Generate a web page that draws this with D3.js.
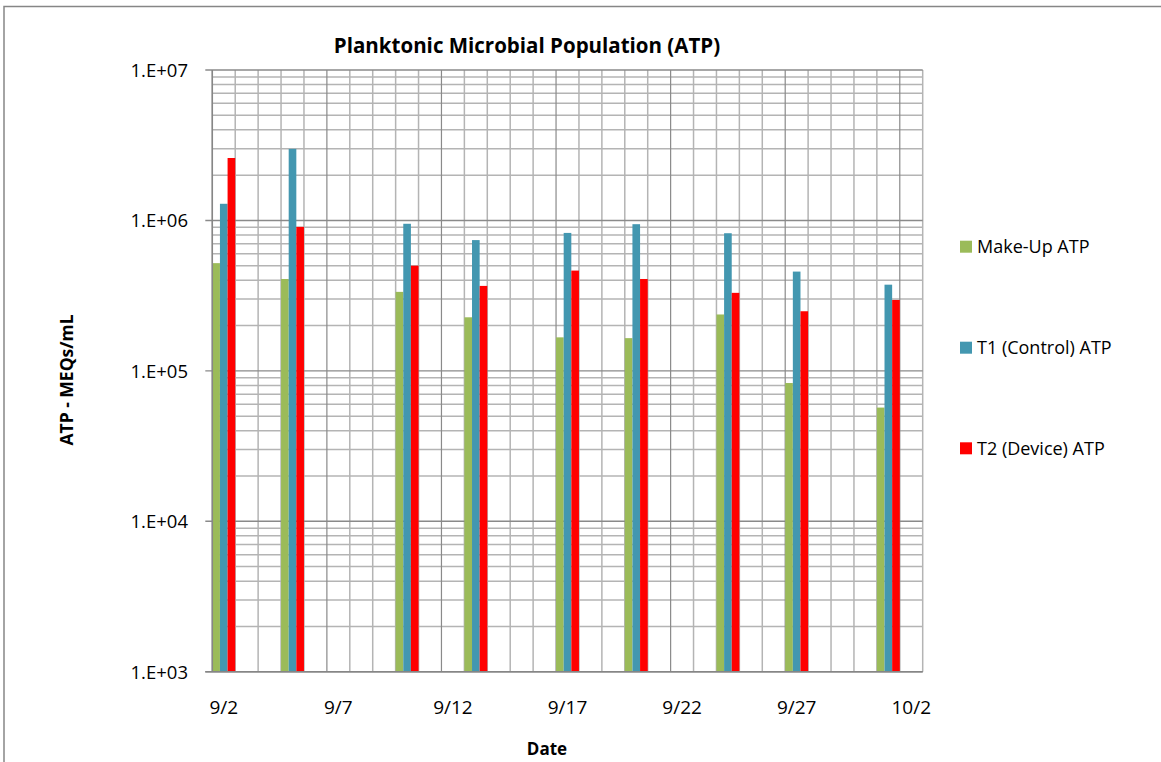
<!DOCTYPE html>
<html>
<head>
<meta charset="utf-8">
<script src="https://cdn.jsdelivr.net/npm/d3@7"></script>
<style>
  html, body { margin: 0; padding: 0; background: #fff; }
  svg { display: block; font-family: "Open Sans", "Noto Sans", sans-serif; }
</style>
</head>
<body>
<svg id="chart" width="1161" height="762"></svg>
<script>
// ---- data ----
const sampleDates = ["9/2", "9/5", "9/10", "9/13", "9/17", "9/20", "9/24", "9/27", "10/1"];
const makeUpATP  = [520000, 408000, 335000, 227000, 167000, 165000, 237000, 83000, 57000];
const t1ControlATP = [1290000, 2990000, 950000, 740000, 826000, 944000, 822000, 457000, 374000];
const t2DeviceATP  = [2600000, 906000, 500000, 367000, 464000, 408000, 330000, 249000, 296000];
const seriesNames = ["Make-Up ATP", "T1 (Control) ATP", "T2 (Device) ATP"];
const seriesColors = ["#9BBB59", "#4397B0", "#FF0000"];
const xTickLabels = ["9/2", "9/7", "9/12", "9/17", "9/22", "9/27", "10/2"];
const yTickValues = [1e3, 1e4, 1e5, 1e6, 1e7];
const yTickLabels = ["1.E+03", "1.E+04", "1.E+05", "1.E+06", "1.E+07"];
const startDate = "9/2", endDate = "10/2";
const YEAR = 2010;

// ---- layout ----
const svg = d3.select("#chart");
const W = 1161, H = 762;
const plot = { left: 212.3, right: 922.7, top: 70, bottom: 671.7 };
const FONT = "'Open Sans', 'Noto Sans', sans-serif";

// outer chart-area border
svg.append("rect").attr("x", 4).attr("y", 6.5).attr("width", W + 10).attr("height", H + 10)
  .attr("fill", "#fff").attr("stroke", "#868686").attr("stroke-width", 1.5);

const parse = s => { const [m, d] = s.split("/").map(Number); return new Date(YEAR, m - 1, d); };
const fmt = d3.timeFormat("%-m/%-d");
const days = d3.timeDay.range(parse(startDate), d3.timeDay.offset(parse(endDate), 1)).map(fmt);

const x = d3.scaleBand().domain(days).range([plot.left, plot.right]).paddingInner(0).paddingOuter(0);
const xs = d3.scaleBand().domain(d3.range(seriesNames.length)).range([0, x.bandwidth()]).padding(0);
const y = d3.scaleLog().domain([1e3, 1e7]).range([plot.bottom, plot.top]);

const g = svg.append("g");

// horizontal grid: minor then major
const minorY = [];
for (let e = 3; e < 7; e++) for (let k = 2; k <= 9; k++) minorY.push(k * Math.pow(10, e));
g.selectAll(".hminor").data(minorY).enter().append("line")
  .attr("x1", plot.left).attr("x2", plot.right)
  .attr("y1", d => y(d)).attr("y2", d => y(d))
  .attr("stroke", "#b4b4b4").attr("stroke-width", 1.5);

// vertical grid: every day edge
const edges = d3.range(days.length + 1);
const edgeX = i => i < days.length ? x(days[i]) : plot.right;
g.selectAll(".vminor").data(edges.filter(i => i % 5 !== 0)).enter().append("line")
  .attr("x1", edgeX).attr("x2", edgeX)
  .attr("y1", plot.top).attr("y2", plot.bottom)
  .attr("stroke", "#b4b4b4").attr("stroke-width", 1.5);

g.selectAll(".hmajor").data(yTickValues).enter().append("line")
  .attr("x1", plot.left - 7).attr("x2", plot.right)
  .attr("y1", d => y(d)).attr("y2", d => y(d))
  .attr("stroke", "#8a8a8a").attr("stroke-width", 1.4);

g.selectAll(".vmajor").data(edges.filter(i => i % 5 === 0)).enter().append("line")
  .attr("x1", edgeX).attr("x2", edgeX)
  .attr("y1", plot.top).attr("y2", plot.bottom)
  .attr("stroke", "#8a8a8a").attr("stroke-width", 1.2);

// bars
const seriesData = [makeUpATP, t1ControlATP, t2DeviceATP];
seriesData.forEach((vals, si) => {
  g.selectAll(".bar" + si).data(vals).enter().append("rect")
    .attr("x", (d, i) => x(sampleDates[i]) + xs(si))
    .attr("width", xs.bandwidth())
    .attr("y", d => y(d))
    .attr("height", d => plot.bottom - y(d))
    .attr("fill", seriesColors[si]);
});

// axis lines
g.append("line").attr("x1", plot.left).attr("x2", plot.left)
  .attr("y1", plot.top).attr("y2", plot.bottom).attr("stroke", "#868686").attr("stroke-width", 1.5);
g.append("line").attr("x1", plot.left - 7).attr("x2", plot.right)
  .attr("y1", plot.bottom).attr("y2", plot.bottom).attr("stroke", "#868686").attr("stroke-width", 1.5);

// y axis labels
const yAxis = d3.axisLeft(y).tickValues(yTickValues)
  .tickFormat((d, i) => yTickLabels[i]).tickSize(0).tickPadding(0);
const ya = svg.append("g").attr("transform", `translate(188,0)`).call(yAxis)
  .attr("font-family", FONT).attr("font-size", 18.5);
ya.select(".domain").remove();
ya.selectAll("text").attr("x", 0).attr("text-anchor", "end").attr("fill", "#000").attr("dy", "0.35em");

// x axis labels
const xAxis = d3.axisBottom(x).tickValues(xTickLabels).tickSize(0).tickPadding(0);
const xa = svg.append("g").attr("transform", `translate(0,${plot.bottom + 36})`).call(xAxis)
  .attr("font-family", FONT).attr("font-size", 19);
xa.select(".domain").remove();
xa.selectAll("text").attr("y", 0).attr("fill", "#000").attr("dy", "0.35em");

// titles
svg.append("text").attr("x", 527).attr("y", 53).attr("text-anchor", "middle")
  .attr("font-family", FONT).attr("font-size", 20.5).attr("font-weight", "bold")
  .text("Planktonic Microbial Population (ATP)");
svg.append("text").attr("x", 547).attr("y", 755).attr("text-anchor", "middle")
  .attr("font-family", FONT).attr("font-size", 17).attr("font-weight", "bold").text("Date");
svg.append("text").attr("transform", "translate(73,380) rotate(-90)").attr("text-anchor", "middle")
  .attr("font-family", FONT).attr("font-size", 17.5).attr("font-weight", "bold").text("ATP - MEQs/mL");

// legend
const legendY = [246.7, 347.7, 448.3];
const lg = svg.append("g");
seriesNames.forEach((name, i) => {
  lg.append("rect").attr("x", 960).attr("y", legendY[i] - 6).attr("width", 12).attr("height", 12)
    .attr("fill", seriesColors[i]);
  lg.append("text").attr("x", 977).attr("y", legendY[i]).attr("dy", "0.35em")
    .attr("font-family", FONT).attr("font-size", 18).text(name);
});
</script>
</body>
</html>
